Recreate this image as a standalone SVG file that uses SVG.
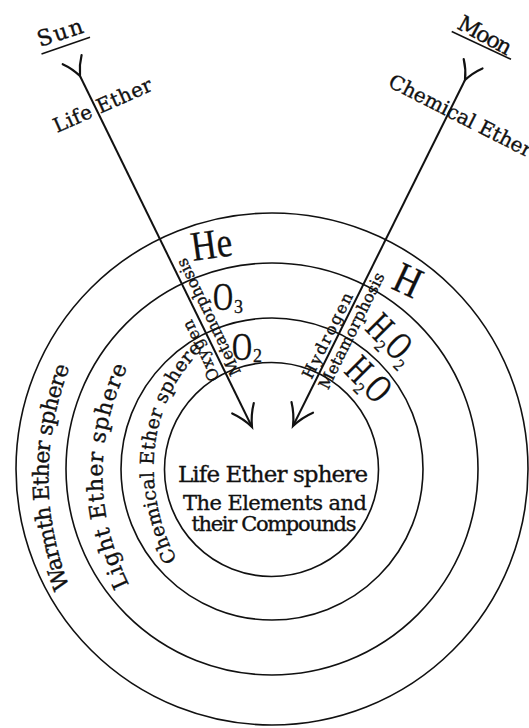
<svg xmlns="http://www.w3.org/2000/svg" width="529" height="728" viewBox="0 0 529 728">
<style>
.ring{fill:none;stroke:#111;stroke-width:1.6}
.ray{fill:none;stroke:#111;stroke-width:2}
.head{fill:none;stroke:#111;stroke-width:2.2;stroke-linecap:round}
.lbl{font-family:"DejaVu Serif","Liberation Serif",serif;fill:#111;stroke:#111;stroke-width:0.35}
.chem{font-family:"Liberation Serif","DejaVu Serif",serif;fill:#111;stroke:#111;stroke-width:0.3}
.ul{stroke:#111;stroke-width:1.5}
</style>
<defs>
<path id="pWarmth" d="M70,588 Q27,478 70,366"/>
<path id="pLight" d="M131,588 Q75,478 129,364"/>
<path id="pChem" d="M177,560 C143,495 140,405 210,342"/>
</defs>
<rect width="529" height="728" fill="#fff"/>

<g id="warmth-sphere">
<circle class="ring" cx="272" cy="469" r="256"/>
<text class="lbl" font-size="22" text-anchor="middle"><textPath href="#pWarmth" startOffset="50%" textLength="226">Warmth Ether sphere</textPath></text>
</g>
<g id="light-sphere">
<circle class="ring" cx="272" cy="469" r="206"/>
<text class="lbl" font-size="22" text-anchor="middle"><textPath href="#pLight" startOffset="50%" textLength="226">Light Ether sphere</textPath></text>
</g>
<g id="chemical-sphere">
<circle class="ring" cx="272" cy="469" r="151"/>
<text class="lbl" font-size="19"><textPath href="#pChem" startOffset="0" textLength="228">Chemical Ether sphere</textPath></text>
</g>
<g id="life-sphere">
<circle class="ring" cx="271.5" cy="469.5" r="107"/>
<text class="lbl" font-size="23" x="273" y="482" text-anchor="middle" textLength="190">Life Ether sphere</text>
<text class="lbl" font-size="21" x="275" y="510" text-anchor="middle" textLength="184">The Elements and</text>
<text class="lbl" font-size="21" x="274" y="531" text-anchor="middle" textLength="165">their Compounds</text>
</g>

<g id="sun">
<text class="lbl" font-size="22" x="40" y="47" textLength="47" transform="rotate(-18 40 47)">Sun</text>
<line class="ul" x1="41.5" y1="54" x2="90" y2="37.3"/>
</g>
<g id="moon">
<text class="lbl" font-size="22" x="456" y="28" textLength="58" transform="rotate(28.5 456 28)">Moon</text>
<line class="ul" x1="451.7" y1="31.5" x2="511" y2="59.3"/>
</g>

<g id="life-ether-label">
<text class="lbl" font-size="20" x="57" y="133" textLength="106" transform="rotate(-24 57 133)">Life Ether</text>
</g>
<g id="chemical-ether-label">
<text class="lbl" font-size="20" x="387" y="86" transform="rotate(27 387 86)">Chemical Ether</text>
</g>

<g id="oxygen-metamorphosis">
<text class="lbl" font-size="16" x="213.5" y="314.8" text-anchor="middle" textLength="128" transform="rotate(-115.7 213.5 314.8)">Metamorphosis</text>
<text class="lbl" font-size="16" x="205.8" y="348.4" text-anchor="middle" textLength="66" transform="rotate(-115.7 205.8 348.4)">Oxygen</text>
</g>
<g id="hydrogen-metamorphosis">
<text class="lbl" font-size="16" x="332.5" y="338" text-anchor="middle" textLength="94" transform="rotate(-63.6 332.5 338)">Hydrogen</text>
<text class="lbl" font-size="16" x="356.5" y="333.1" text-anchor="middle" textLength="128" transform="rotate(-63.6 356.5 333.1)">Metamorphosis</text>
</g>

<g id="he"><text class="chem" x="193" y="261" font-size="42" textLength="41" lengthAdjust="spacingAndGlyphs" transform="rotate(-8 193 261)">He</text></g>
<g id="h"><text class="chem" x="390" y="288" font-size="44" textLength="26" lengthAdjust="spacingAndGlyphs" transform="rotate(25 390 288)">H</text></g>
<g id="o3">
<text class="chem" x="213" y="310" font-size="40" textLength="20" lengthAdjust="spacingAndGlyphs">O</text>
<text class="chem" x="234" y="313" font-size="18" textLength="9" lengthAdjust="spacingAndGlyphs">3</text>
</g>
<g id="o2">
<text class="chem" x="232" y="360" font-size="40" textLength="20" lengthAdjust="spacingAndGlyphs">O</text>
<text class="chem" x="253" y="362" font-size="18" textLength="9" lengthAdjust="spacingAndGlyphs">2</text>
</g>
<g id="h2o2" transform="translate(364 329.5) rotate(45)">
<text class="chem" x="0" y="0" font-size="40" textLength="19" lengthAdjust="spacingAndGlyphs">H</text>
<text class="chem" x="19" y="6" font-size="17" textLength="8" lengthAdjust="spacingAndGlyphs">2</text>
<text class="chem" x="27" y="0" font-size="40" textLength="19" lengthAdjust="spacingAndGlyphs">O</text>
<text class="chem" x="46" y="6" font-size="17" textLength="8" lengthAdjust="spacingAndGlyphs">2</text>
</g>
<g id="h2o" transform="translate(343 372) rotate(45)">
<text class="chem" x="0" y="0" font-size="40" textLength="19" lengthAdjust="spacingAndGlyphs">H</text>
<text class="chem" x="19" y="6" font-size="17" textLength="8" lengthAdjust="spacingAndGlyphs">2</text>
<text class="chem" x="27" y="0" font-size="40" textLength="20" lengthAdjust="spacingAndGlyphs">O</text>
</g>

<g id="connectors">
<line class="ray" x1="80" y1="76" x2="252" y2="427"/>
<path class="head" d="M81.6,55.1 Q79,65.5 80,76 Q72.5,68.7 62.7,64.2"/>
<path class="head" d="M253.8,403.1 Q250.8,415.1 252,427 Q243.4,418.6 232.2,413.5"/>
<line class="ray" x1="465" y1="80" x2="293" y2="426"/>
<path class="head" d="M482.5,68.4 Q472.6,72.8 465,80 Q466.2,69.6 463.7,59"/>
<path class="head" d="M313,412.7 Q301.7,417.7 293,426 Q294.3,414.1 291.5,402"/>
</g>
</svg>
